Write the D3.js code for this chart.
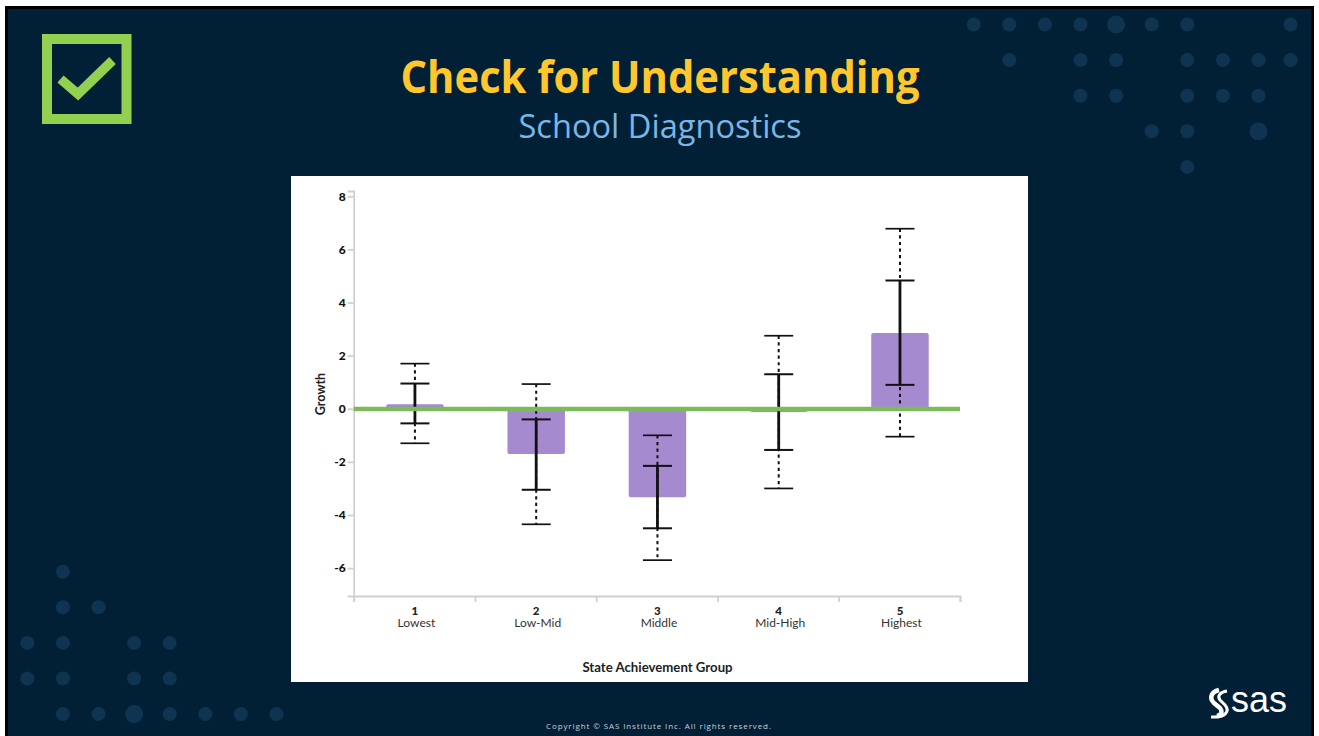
<!DOCTYPE html>
<html>
<head>
<meta charset="utf-8">
<script src="https://cdn.jsdelivr.net/npm/d3@7"></script>
<style>
html,body{margin:0;padding:0;background:#fff;overflow:hidden}
svg{display:block}
.axis path,.axis line{stroke:#d0d0d0;stroke-width:1.8;fill:none}
</style>
</head>
<body>
<svg id="c" width="1319" height="736"></svg>
<script>
const groups = ["1","2","3","4","5"];
const groupNames = ["Lowest","Low-Mid","Middle","Mid-High","Highest"];
const growth = [0.17,-1.7,-3.33,-0.12,2.85];
const innerHigh = [0.95,-0.4,-2.15,1.3,4.83];
const innerLow = [-0.55,-3.05,-4.5,-1.55,0.9];
const outerHigh = [1.7,0.93,-1,2.75,6.78];
const outerLow = [-1.3,-4.35,-5.7,-3,-1.05];
const yTicks = [8,6,4,2,0,-2,-4,-6];

const svg = d3.select("#c");
const FONT = "Lato, 'Noto Sans', sans-serif";

// slide
svg.append("rect").attr("width",1319).attr("height",736).attr("fill","#fff");
svg.append("rect").attr("x",5).attr("y",6).attr("width",1309).attr("height",730).attr("fill","#000");
svg.append("rect").attr("x",8).attr("y",9).attr("width",1303).attr("height",727).attr("fill","#012036");

// background dots: [column, row, big]
const dotStep = 35.6;
const dotsTR = [[0,0],[1,0],[2,0],[3,0],[4,0,1],[5,0],[6,0],[8.9,0],
  [1,1],[3,1],[4,1],[6,1],[7,1],[8,1],[8.9,1],
  [3,2],[4,2],[6,2],[7,2],[8,2],
  [5,3],[6,3],[8,3,1],
  [6,4]];
const dotsBL = [[1,0],[1,1],[2,1],[0,2],[1,2],[3,2],[4,2],[0,3],[1,3],[3,3],[4,3],
  [1,4],[2,4],[3,4,1],[4,4],[5,4],[6,4],[7,4]];
const dotG = svg.append("g").attr("fill","#0f3452");
dotG.selectAll(".tr").data(dotsTR).join("circle").attr("class","tr")
  .attr("cx",d=>973.7+d[0]*dotStep).attr("cy",d=>24.5+d[1]*dotStep).attr("r",d=>d[2]?9:7);
dotG.selectAll(".bl").data(dotsBL).join("circle").attr("class","bl")
  .attr("cx",d=>27.3+d[0]*dotStep).attr("cy",d=>571.7+d[1]*dotStep).attr("r",d=>d[2]?9:7);

// check box icon
svg.append("rect").attr("x",47).attr("y",39).attr("width",79.5).attr("height",80)
  .attr("fill","none").attr("stroke","#92d14f").attr("stroke-width",10);
svg.append("path").attr("d","M60.5 79 L78 94 L112.5 60.5").attr("fill","none")
  .attr("stroke","#92d14f").attr("stroke-width",9.5);

// titles
svg.append("text").attr("x",660).attr("y",92.5).attr("text-anchor","middle")
  .attr("font-family","'Open Sans',sans-serif").attr("font-weight",700).attr("font-size",44)
  .attr("textLength",519).attr("lengthAdjust","spacingAndGlyphs")
  .attr("fill","#ffc72c").text("Check for Understanding");
svg.append("text").attr("x",660).attr("y",137.5).attr("text-anchor","middle")
  .attr("font-family","'Open Sans',sans-serif").attr("font-size",33)
  .attr("textLength",283).attr("lengthAdjust","spacingAndGlyphs")
  .attr("fill","#7ab6e6").text("School Diagnostics");

// chart panel
svg.append("rect").attr("x",291).attr("y",176).attr("width",737).attr("height",506).attr("fill","#fff");

const left = 353.7, right = 960;
const y = d3.scaleLinear().domain([-7.05,8.2]).range([596,191]);
const x = d3.scaleBand().domain(groups).range([left+0.6,right+0.6]).paddingInner(0.526).paddingOuter(0.263);
const edges = d3.scaleLinear().domain([0,groups.length]).range([left,right]);
const cx = g => x(g)+x.bandwidth()/2;

// axes
const ya = svg.append("g").attr("class","axis").attr("transform",`translate(${left},0)`)
  .call(d3.axisLeft(y).tickValues(yTicks).tickSize(6).tickPadding(2).tickFormat(d=>String(d)));
ya.selectAll("text").attr("font-family",FONT).attr("font-size",12).attr("font-weight",900).attr("fill","#111");
const xa = svg.append("g").attr("class","axis").attr("transform","translate(0,596)")
  .call(d3.axisBottom(edges).tickValues(d3.range(groups.length+1)).tickSize(6).tickFormat(""));

// bars
svg.selectAll(".bar").data(groups).join("rect").attr("class","bar")
  .attr("x",g=>x(g)).attr("width",x.bandwidth())
  .attr("y",(g,i)=>Math.min(y(growth[i]),y(0)))
  .attr("height",(g,i)=>Math.abs(y(growth[i])-y(0)))
  .attr("rx",2).attr("fill","#a68acf");

// error bars
const err = svg.append("g").attr("stroke","#111").attr("fill","none");
groups.forEach((g,i)=>{
  const c = cx(g);
  err.append("line").attr("x1",c).attr("x2",c).attr("y1",y(outerHigh[i])).attr("y2",y(outerLow[i]))
    .attr("stroke-width",2).attr("stroke-dasharray","3.2 3.4");
  err.append("line").attr("x1",c).attr("x2",c).attr("y1",y(innerHigh[i])).attr("y2",y(innerLow[i]))
    .attr("stroke-width",2.8);
  [outerHigh[i],outerLow[i]].forEach(v=>err.append("line").attr("x1",c-14.5).attr("x2",c+14.5)
    .attr("y1",y(v)).attr("y2",y(v)).attr("stroke-width",1.7));
  [innerHigh[i],innerLow[i]].forEach(v=>err.append("line").attr("x1",c-14.5).attr("x2",c+14.5)
    .attr("y1",y(v)).attr("y2",y(v)).attr("stroke-width",2));
});

// zero reference line
svg.append("line").attr("x1",left).attr("x2",right).attr("y1",y(0)+0.2).attr("y2",y(0)+0.2)
  .attr("stroke","#7dba5c").attr("stroke-width",4.4);

// category labels
svg.selectAll(".cn").data(groups).join("text").attr("class","cn")
  .attr("x",g=>cx(g)).attr("y",615).attr("text-anchor","middle")
  .attr("font-family",FONT).attr("font-size",11.5).attr("font-weight",900).attr("fill","#222").text(g=>g);
svg.selectAll(".cl").data(groupNames).join("text").attr("class","cl")
  .attr("x",(d,i)=>cx(groups[i])+1.5).attr("y",626.5).attr("text-anchor","middle")
  .attr("font-family",FONT).attr("font-size",12).attr("fill","#333").text(d=>d);

// axis titles
svg.append("text").attr("transform","translate(325,394) rotate(-90)").attr("text-anchor","middle")
  .attr("font-family",FONT).attr("font-size",12.5).attr("font-weight",700).attr("fill","#222").text("Growth");
svg.append("text").attr("x",657.5).attr("y",671.5).attr("text-anchor","middle")
  .attr("font-family",FONT).attr("font-size",13.2).attr("font-weight",700).attr("fill","#222").text("State Achievement Group");

// footer
svg.append("text").attr("x",658.5).attr("y",729).attr("text-anchor","middle")
  .attr("font-family","'Open Sans',sans-serif").attr("font-size",8)
  .attr("textLength",225).attr("fill","#c8d2da").text("Copyright © SAS Institute Inc. All rights reserved.");

// SAS logo
const logo = svg.append("g").attr("fill","none").attr("stroke","#fff");
logo.append("path").attr("d","M1219 690 C1211 692 1209 698 1214 703 L1220 708 C1223 712 1221 715 1217 716").attr("stroke-width",4.5);
logo.append("path").attr("d","M1227 691 C1220 692 1217 696 1220 700 L1225 705 C1230 711 1226 718 1211 717").attr("stroke-width",3);
svg.append("text").attr("x",1231).attr("y",712).attr("font-family","'Liberation Sans',sans-serif")
  .attr("font-size",37).attr("textLength",56).attr("lengthAdjust","spacingAndGlyphs")
  .attr("fill","#fff").text("sas");
</script>
</body>
</html>
